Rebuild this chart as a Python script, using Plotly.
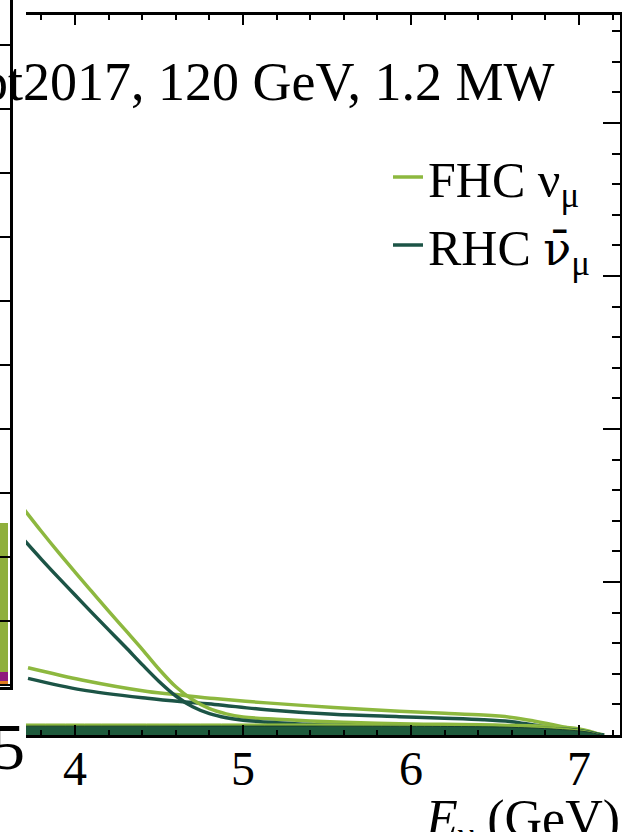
import plotly.graph_objects as go

# ---------------- data ----------------
# main panel: neutrino energy (GeV) and flux (arbitrary units, 1 unit = one major tick)
E_peak = [3.70, 3.80, 3.90, 4.00, 4.10, 4.20, 4.30, 4.40, 4.50, 4.60, 4.70, 4.80, 4.90, 5.00, 5.20, 5.40, 5.70, 6.00, 6.50, 7.00, 7.13]
fhc_peak = [1.47, 1.33, 1.195, 1.065, 0.937, 0.81, 0.685, 0.56, 0.43, 0.315, 0.23, 0.172, 0.138, 0.118, 0.103, 0.092, 0.08, 0.072, 0.065, 0.04, 0.0]
rhc_peak = [1.27, 1.148, 1.03, 0.915, 0.80, 0.687, 0.575, 0.46, 0.35, 0.255, 0.185, 0.14, 0.113, 0.097, 0.08, 0.068, 0.06, 0.056, 0.05, 0.03, 0.0]

E_tail = [3.72, 4.04, 4.43, 4.64, 4.83, 5.14, 5.54, 5.93, 6.2, 6.43, 6.6, 6.73, 6.9, 7.02, 7.15]
fhc_tail = [0.44, 0.36, 0.285, 0.26, 0.238, 0.21, 0.18, 0.155, 0.142, 0.13, 0.115, 0.092, 0.055, 0.025, 0.0]
rhc_tail = [0.37, 0.295, 0.24, 0.217, 0.20, 0.165, 0.135, 0.12, 0.11, 0.10, 0.087, 0.065, 0.037, 0.017, 0.0]

E_band = [3.70, 4.5, 5.5, 6.3, 6.6, 6.9, 7.05, 7.13]
band_light = [0.072, 0.072, 0.072, 0.068, 0.06, 0.045, 0.025, 0.0]
band_dark = [0.058, 0.058, 0.058, 0.055, 0.05, 0.035, 0.02, 0.0]

# left (cut-off) panel: stacked histogram, last visible bin
left_bin = [0.4]
left_orange = [0.06]
left_purple = [0.14]
left_green = [2.33]

x_ticks = [4, 5, 6, 7]
x_ticktext = ["4", "5", "6", "7"]

title_text = "Opt2017, 120 GeV, 1.2 MW"
leg_fhc = "FHC ν<sub>μ</sub>"
leg_rhc = "RHC <span style='font-family:DejaVu Serif;font-size:46px'>ν̄</span><sub>μ</sub>"
xtitle = "<i>E</i><sub>ν</sub> (GeV)"
left_label = "5"

# ---------------- styles ----------------
LIGHT = "#8DB83F"
DARK = "#1C5446"
FONT = "Liberation Serif"

W, H = 622, 832
ML, MR, MT, MB = 0, 2, 0, 97
PW, PH = W - ML - MR, H - MT - MB   # 620 x 735

fig = go.Figure()

# left panel stacked bars
for vals, col in [(left_orange, "#E07A1F"), (left_purple, "#8E1B7D"), (left_green, "#8FAF3C")]:
    fig.add_trace(go.Bar(x=left_bin, y=vals, width=0.8, marker=dict(color=col, line=dict(width=0)),
                         xaxis="x2", yaxis="y2", showlegend=False, hoverinfo="skip"))

LW = 3.5
# main curves
fig.add_trace(go.Scatter(x=E_tail, y=fhc_tail, mode="lines", line=dict(color=LIGHT, width=LW, shape="spline", smoothing=0.9),
                         showlegend=False, legendgroup="fhc"))
fig.add_trace(go.Scatter(x=E_tail, y=rhc_tail, mode="lines", line=dict(color=DARK, width=LW, shape="spline", smoothing=0.9),
                         showlegend=False, legendgroup="rhc"))
fig.add_trace(go.Scatter(x=E_peak, y=fhc_peak, mode="lines", name=leg_fhc,
                         line=dict(color=LIGHT, width=LW, shape="spline", smoothing=1.0), legendgroup="fhc"))
fig.add_trace(go.Scatter(x=E_peak, y=rhc_peak, mode="lines", name=leg_rhc,
                         line=dict(color=DARK, width=LW, shape="spline", smoothing=1.0), legendgroup="rhc"))

# bottom band
fig.add_trace(go.Scatter(x=E_band, y=band_light, mode="lines", fill="tozeroy", fillcolor=LIGHT,
                         line=dict(color=LIGHT, width=1, shape="spline"), showlegend=False, hoverinfo="skip"))
fig.add_trace(go.Scatter(x=E_band, y=band_dark, mode="lines", fill="tozeroy", fillcolor="#1E5A3C",
                         line=dict(color="#173F30", width=1, shape="spline"), showlegend=False, hoverinfo="skip"))

x0_px = 26
fig.update_layout(
    width=W, height=H,
    margin=dict(l=ML, r=MR, t=MT, b=MB, pad=0),
    paper_bgcolor="white", plot_bgcolor="white",
    barmode="stack",
    font=dict(family=FONT, color="black"),
    xaxis=dict(domain=[x0_px / PW, 1.0], range=[3.708, 7.244],
               tickmode="array", tickvals=x_ticks, ticktext=x_ticktext,
               ticks="inside", ticklen=10, tickwidth=2, tickcolor="black",
               minor=dict(dtick=0.2, tick0=0, ticks="inside", ticklen=5, tickwidth=1.5, tickcolor="black", showgrid=False),
               showline=True, linewidth=2.5, linecolor="black", mirror="allticks",
               showgrid=False, zeroline=False,
               tickfont=dict(family=FONT, size=48, color="black"), ticklabelstandoff=-10),
    yaxis=dict(domain=[0, (PH - 15) / PH], range=[0, 4.706], side="right",
               dtick=1, tick0=0, ticks="inside", ticklen=17, tickwidth=2, tickcolor="black",
               minor=dict(dtick=0.2, tick0=0, ticks="inside", ticklen=8, tickwidth=1.5, tickcolor="black", showgrid=False),
               showticklabels=False, showline=True, linewidth=2.5, linecolor="black",
               showgrid=False, zeroline=False),
    xaxis2=dict(domain=[0, 10 / PW], range=[0, 1], anchor="y2", showticklabels=False, ticks="",
                showline=True, linewidth=2.5, linecolor="black", showgrid=False, zeroline=False),
    yaxis2=dict(domain=[(PH - 687) / PH, 1.0], range=[-0.03, 10.7], anchor="x2", side="right",
                dtick=1, tick0=0, ticks="inside", ticklen=10, tickwidth=2, tickcolor="black",
                showticklabels=False, showline=True, linewidth=2.5, linecolor="black",
                showgrid=False, zeroline=False),
    legend=dict(x=388 / PW, y=(PH - 138) / PH, xanchor="left", yanchor="top",
                bgcolor="rgba(255,255,255,0)", borderwidth=0,
                font=dict(family=FONT, size=50, color="black"),
                itemwidth=30, tracegroupgap=0),
    showlegend=True,
)

fig.add_annotation(text=title_text, xref="paper", yref="paper", x=557 / PW, y=(PH - 82) / PH,
                   xanchor="right", yanchor="middle", showarrow=False,
                   font=dict(family=FONT, size=54, color="black"))
fig.add_annotation(text=xtitle, xref="paper", yref="paper", x=622 / PW, y=(PH - 788) / PH,
                   xanchor="right", yanchor="top", showarrow=False,
                   font=dict(family=FONT, size=52, color="black"))
fig.add_annotation(text=left_label, xref="paper", yref="paper", x=27 / PW, y=(PH - 746) / PH,
                   xanchor="right", yanchor="middle", showarrow=False,
                   font=dict(family=FONT, size=66, color="black"))

fig.write_html("out.html")
